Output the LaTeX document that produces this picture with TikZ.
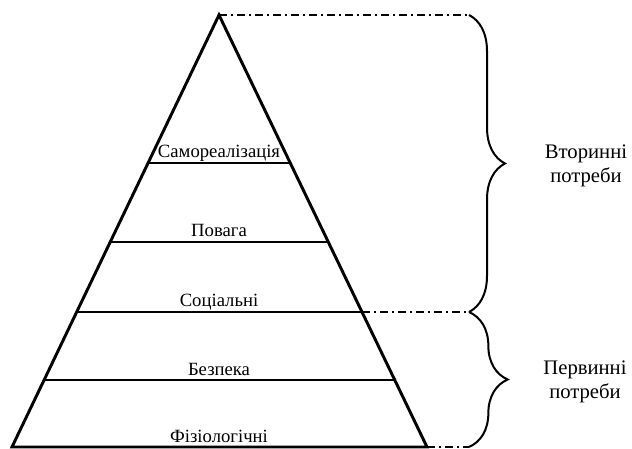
\documentclass[tikz,border=0pt]{standalone}
\usepackage{fontspec}
\setmainfont{Liberation Serif}
\usetikzlibrary{positioning, decorations.pathreplacing}

\begin{document}
\begin{tikzpicture}[x=0.75pt, y=-0.75pt,
    level/.style={line width=2.2pt},
    dashdot/.style={line width=1.3pt, dash pattern=on 6pt off 3pt on 1.5pt off 3pt},
    brace/.style={line width=1.5pt, decorate, decoration={brace, amplitude=#1}},
    lbl/.style={anchor=base, inner sep=0pt, font=\fontsize{14}{16}\selectfont},
    side/.style={align=center, font=\fontsize{15.5}{18.5}\selectfont}]
                    \useasboundingbox (0, 0) rectangle (632, 449);

                    \coordinate (top) at (219, 15);
                    \coordinate (bl) at (12, 447);
                    \coordinate (br) at (427, 447);
                    \coordinate (l1) at (148, 163);
                    \coordinate (r1) at (290, 163);
                    \coordinate (l2) at (110, 242);
                    \coordinate (r2) at (328, 242);
                    \coordinate (l3) at (77, 312);
                    \coordinate (r3) at (362, 312);
                    \coordinate (l4) at (44, 380);
                    \coordinate (r4) at (395, 380);
                    \coordinate (btop) at (469, 15);
                    \coordinate (bmid) at (469, 312);
                    \coordinate (bbot) at (469, 447);

                    \draw[level, line join=miter] (top) -- (bl) -- (br) -- cycle;
                    \draw[level] (l1) -- (r1);
                    \draw[level] (l2) -- (r2);
                    \draw[level] (l3) -- (r3);
                    \draw[level] (l4) -- (r4);

                    \draw[dashdot] (top) -- (btop);
                    \draw[dashdot] (r3) -- (bmid);
                    \draw[dashdot] (br) -- (bbot);

                    \draw[brace=27pt] (btop) -- (bmid);
                    \draw[brace=29pt] (bmid) -- (bbot);

                    \node[lbl] (self) at (219, 158) {Самореалізація};
                    \node[lbl] (esteem) at (219, 237) {Повага};
                    \node[lbl] (social) at (219, 306) {Соціальні};
                    \node[lbl] (safety) at (219, 375) {Безпека};
                    \node[lbl] (physio) at (219, 442) {Фізіологічні};

                    \node[side] (second) at (586, 166) {Вторинні\\потреби};
                    \node[side] (first) at (585, 382) {Первинні\\потреби};
                \end{tikzpicture}
\end{document}
